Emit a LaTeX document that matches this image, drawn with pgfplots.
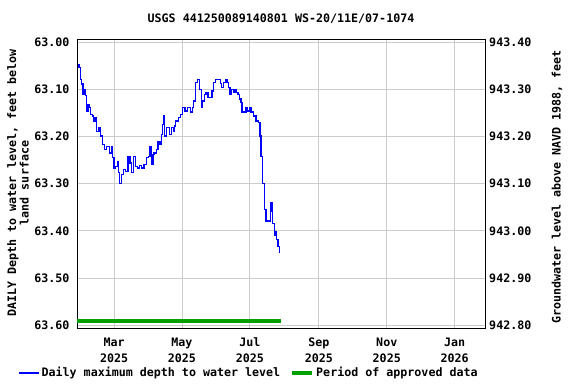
\documentclass[border=0pt]{standalone}
\usepackage{fontspec}
\setmainfont{DejaVu Sans Mono}
\setmonofont{DejaVu Sans Mono}
\usepackage{pgfplots}
\pgfplotsset{compat=1.18}
\definecolor{gridc}{RGB}{204,204,204}
\definecolor{appr}{RGB}{0,160,0}
\newcommand{\chfont}{\bfseries\fontsize{11.7}{16}\selectfont}
\pgfplotstableread{
day depth
26.6 63.047
27.5 63.054
29.0 63.079
29.6 63.089
31.1 63.111
32.0 63.100
33.2 63.114
34.1 63.146
35.6 63.132
36.5 63.138
38.0 63.153
39.5 63.157
40.4 63.167
41.9 63.160
43.4 63.189
45.5 63.181
47.0 63.199
48.5 63.217
50.6 63.228
52.1 63.221
53.9 63.221
55.1 63.235
56.6 63.221
57.5 63.245
59.0 63.267
60.5 63.263
62.0 63.253
62.9 63.277
64.1 63.299
65.6 63.281
67.4 63.270
69.5 63.274
71.6 63.242
73.4 63.256
74.9 63.277
76.4 63.242
78.2 63.263
80.0 63.267
82.1 63.262
83.9 63.267
86.0 63.260
88.1 63.245
89.9 63.242
91.4 63.221
92.6 63.260
94.1 63.238
95.0 63.235
97.1 63.228
98.6 63.210
100.4 63.217
101.6 63.196
102.5 63.174
103.4 63.157
104.6 63.199
106.1 63.181
107.6 63.181
109.1 63.196
110.6 63.181
112.1 63.189
113.0 63.178
114.5 63.167
116.9 63.160
118.4 63.153
120.5 63.139
122.6 63.146
125.0 63.139
127.4 63.148
129.5 63.139
130.4 63.125
131.9 63.086
134.0 63.080
135.5 63.100
137.6 63.139
138.5 63.125
140.0 63.111
141.5 63.107
143.3 63.118
145.4 63.118
146.9 63.104
148.4 63.086
149.9 63.079
152.9 63.079
154.4 63.088
155.6 63.096
157.1 63.086
158.9 63.079
160.4 63.086
161.9 63.096
163.1 63.111
164.3 63.100
166.1 63.107
167.3 63.100
168.5 63.107
170.3 63.111
171.5 63.121
173.0 63.128
173.9 63.148
176.0 63.148
177.5 63.139
179.0 63.146
180.5 63.139
182.0 63.148
184.1 63.157
186.5 63.167
188.9 63.171
190.1 63.199
191.0 63.242
192.5 63.299
194.0 63.355
195.5 63.379
197.8 63.379
199.4 63.352
200.0 63.341
200.9 63.359
201.4 63.384
203.0 63.409
203.9 63.401
205.1 63.419
206.3 63.433
207.5 63.447
}\depthdata
\begin{document}
\begin{tikzpicture}[x=1bp,y=1bp]
\path (0,0) rectangle (576,384);
\begin{axis}[
  at={(77bp,55.7bp)}, anchor=south west,
  scale only axis, width=408.7bp, height=289.3bp,
  xmin=25.7, xmax=392.9, ymin=62.9936, ymax=63.6064, y dir=reverse,
  axis line style={line width=0.9bp},
  xtick={59,120,181,243,304,365},
  xticklabels={{\strut Mar\\\strut 2025},{\strut May\\\strut 2025},{\strut Jul\\\strut 2025},{\strut Sep\\\strut 2025},{\strut Nov\\\strut 2025},{\strut Jan\\\strut 2026}},
  xticklabel style={align=center, font=\chfont, yshift=-4bp},
  ytick={63.0,63.1,63.2,63.3,63.4,63.5,63.6},
  yticklabel style={/pgf/number format/fixed, /pgf/number format/fixed zerofill, /pgf/number format/precision=2, font=\chfont, xshift=-4bp},
  /pgf/number format/assume math mode=true,
  major tick length=0pt,
  grid=major, major grid style={color=gridc, line width=0.9bp},
  legend columns=2,
  legend style={at={(-0.144,-0.1545)}, anchor=west, draw=none, fill=none,
    font=\chfont, inner sep=0pt,
    /tikz/every even column/.append style={column sep=8bp}},
  legend image code/.code={\draw[#1] (0bp,0bp) -- (20bp,0bp);},
]
\addplot[blue, line width=1.3bp, const plot] table[x=day, y=depth] {\depthdata};
\addlegendentry{Daily maximum depth to water level}
\addplot[appr, line width=4bp] coordinates {(25.7,63.591) (209.3,63.591)};
\addlegendentry{Period of approved data}
\end{axis}
\begin{axis}[
  at={(77bp,55.7bp)}, anchor=south west,
  scale only axis, width=408.7bp, height=289.3bp,
  xmin=25.7, xmax=392.9, ymin=942.7936, ymax=943.4064,
  hide x axis, axis y line*=right,
  axis line style={line width=0.9bp},
  ytick={942.8,942.9,943.0,943.1,943.2,943.3,943.4},
  yticklabel style={/pgf/number format/fixed, /pgf/number format/fixed zerofill, /pgf/number format/precision=2, font=\chfont},
  /pgf/number format/assume math mode=true,
  major tick length=0pt,
]
\end{axis}
\node[font=\chfont] at (281,365) {USGS 441250089140801 WS-20/11E/07-1074};
\node[rotate=90, align=center, font=\bfseries\fontsize{11.7}{12.5}\selectfont] at (18,201) {DAILY Depth to water level, feet below\\land surface};
\node[rotate=90, font=\chfont] at (557,197) {Groundwater level above NAVD 1988, feet};
\end{tikzpicture}
\end{document}
